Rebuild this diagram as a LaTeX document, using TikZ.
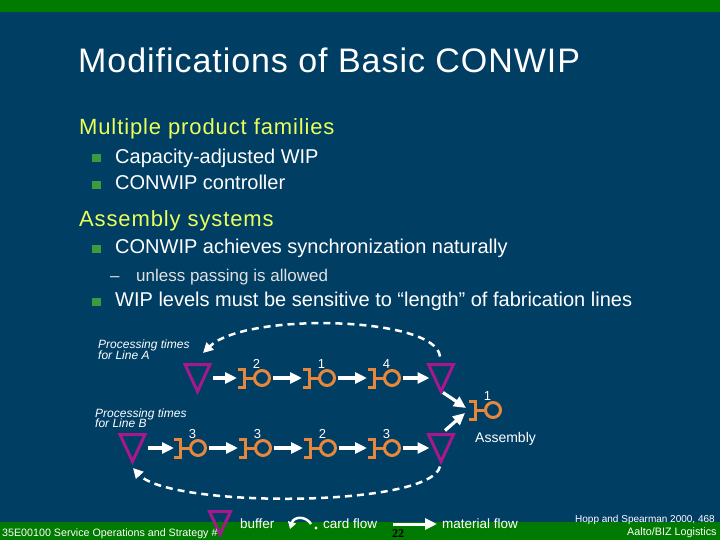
\documentclass[tikz,border=0pt]{standalone}
\usepackage{fontspec}
\setmainfont{Liberation Sans}
\newfontfamily\serifface{Liberation Serif}
\newfontfamily\spacedA[LetterSpace=2.8]{Liberation Sans}
\newfontfamily\spacedB[LetterSpace=4]{Liberation Sans}
\usetikzlibrary{arrows.meta,calc}
\definecolor{bgblue}{RGB}{0,62,100}
\definecolor{bargreen}{RGB}{0,122,0}
\definecolor{stnorange}{RGB}{230,135,60}
\definecolor{bufmag}{RGB}{165,25,140}
\definecolor{bulgreen}{RGB}{60,155,60}
\definecolor{headyellow}{RGB}{235,255,90}
\definecolor{subgray}{RGB}{225,225,225}
\newcommand{\fs}[1]{\fontsize{#1}{#1}\selectfont}
\newcommand{\mystation}[4]{%
  \node[ring] (#1) at (#2,#3) {};
  \coordinate (#1-in) at ($(#1.center)+(-25,0)$);
  \draw[stnline] (#1.west) -- ++(-10,0);
  \draw[stnline] ($(#1.center)+(-24,-9)$) -- ++(6.5,0) -- ++(0,18) -- ++(-6.5,0);
  \node[numlbl] (#1-lbl) at ($(#1.center)+(-5.5,-10)$) {#4};
}
\newcommand{\mybuffer}[5]{%
  \node[bufbox, minimum width=#4pt, minimum height=#5pt] (#1) at (#2,#3) {};
  \draw[bufline] (#1.north west) -- (#1.north east) -- (#1.south) -- cycle;
}
\begin{document}
\begin{tikzpicture}[x=1pt,y=-1pt,
  ring/.style={circle, draw=stnorange, line width=3pt, minimum size=15pt, inner sep=0pt, outer sep=0pt},
  stnline/.style={draw=stnorange, line width=3pt},
  numlbl/.style={anchor=base, inner sep=0pt, text=white, font=\fs{13}},
  bufbox/.style={inner sep=0pt, outer sep=0pt},
  bufline/.style={draw=bufmag, line width=3pt, line join=miter},
  flow/.style={draw=white, line width=3.2pt, -{Triangle[length=12pt,width=11pt]}},
  card/.style={draw=white, line width=2.5pt, dash pattern=on 7pt off 5pt, -{Triangle[length=10pt,width=10pt]}},
  txt/.style={anchor=base west, inner sep=0pt, text=white},
  bulsq/.style={fill=bulgreen, minimum size=8.5pt, inner sep=0pt, outer sep=0pt}
]
\useasboundingbox (0,0) rectangle (720,540);
\fill[bgblue] (0,0) rectangle (720,540);
\fill[bargreen] (0,0) rectangle (720,12);
\fill[bargreen] (0,522) rectangle (720,540);

% title and bullets
\node[txt, font=\spacedA\fs{34}] (title) at (78,72.3) {Modifications of Basic CONWIP};
\node[txt, text=headyellow, font=\spacedB\fs{22}] (h1) at (79,134.3) {Multiple product families};
\node[bulsq] (s1) at (96.5,158) {};
\node[txt, font=\fs{20}] (b1) at (115,163.3) {Capacity-adjusted WIP};
\node[bulsq] (s2) at (96.5,185) {};
\node[txt, font=\fs{20}] (b2) at (115,190) {CONWIP controller};
\node[txt, text=headyellow, font=\spacedB\fs{22}] (h2) at (79,226.7) {Assembly systems};
\node[bulsq] (s3) at (96.5,249) {};
\node[txt, font=\fs{20}] (b3) at (115,254) {CONWIP achieves synchronization naturally};
\node[txt, text=subgray, font=\fs{17}] (d1) at (110,281) {–};
\node[txt, text=subgray, font=\fs{17}] (b4) at (136,281) {unless passing is allowed};
\node[bulsq] (s4) at (96.5,302) {};
\node[txt, font=\fs{20}] (b5) at (115,306.7) {WIP levels must be sensitive to “length” of fabrication lines};

% processing time captions
\node[txt, font=\fs{12}\itshape] (pa1) at (98,348.3) {Processing times};
\node[txt, font=\fs{12}\itshape] (pa2) at (98,359) {for Line A};
\node[txt, font=\fs{12}\itshape] (pb1) at (95,417.3) {Processing times};
\node[txt, font=\fs{12}\itshape] (pb2) at (95,427.8) {for Line B};

% line A
\mybuffer{tA1}{197.5}{378}{25}{27}
\mystation{a1}{262}{378}{2}
\mystation{a2}{327}{378}{1}
\mystation{a3}{392}{378}{4}
\mybuffer{tA2}{441}{378}{25}{27}
% line B
\mybuffer{tB1}{132.5}{448}{25}{27}
\mystation{b1}{198}{448}{3}
\mystation{b2}{263}{448}{3}
\mystation{b3}{328}{448}{2}
\mystation{b4}{392}{448}{3}
\mybuffer{tB2}{441}{448}{25}{27}
% assembly
\mystation{asm}{493}{410}{1}
\node[txt, font=\fs{14}] (asmlbl) at (475,442.7) {Assembly};

% material flow
\draw[flow, shorten <=3pt] (tA1.east) -- (a1-in);
\draw[flow, shorten <=3pt] (a1.east) -- (a2-in);
\draw[flow, shorten <=3pt] (a2.east) -- (a3-in);
\draw[flow, shorten <=3pt, shorten >=-1pt] (a3.east) -- (tA2.west);
\draw[flow, shorten <=3pt, shorten >=-1pt] (tB1.east) -- (b1-in);
\draw[flow, shorten <=3pt] (b1.east) -- (b2-in);
\draw[flow, shorten <=3pt] (b2.east) -- (b3-in);
\draw[flow, shorten <=3pt] (b3.east) -- (b4-in);
\draw[flow, shorten <=3pt, shorten >=-1pt] (b4.east) -- (tB2.west);
\draw[flow] ($(tA2.south)+(2,1)$) -- ($(asm-in)+(-2,-2)$);
\draw[flow] ($(tB2.north)+(4,-4)$) -- ($(asm-in)+(-3,3)$);

% card flow
\coordinate (cA) at (203,353);
\coordinate (cB) at (133,468);
\draw[card] ($(tA2.north)+(-1,-8)$) .. controls (436,316) and (245,312) .. (cA);
\draw[card] ($(tB2.south)+(-1,5)$) .. controls (430,508) and (170,508) .. (cB);

% legend
\mybuffer{lgbuf}{220}{523}{21}{23}
\node[txt, font=\fs{13.5}] (lgbuftxt) at (240,528) {buffer};
\coordinate (lgc1) at (311,524);
\coordinate (lgc2) at (290,529);
\draw[draw=white, line width=2.5pt, -{Triangle[length=7pt,width=8pt]}] (lgc1) .. controls (306,516) and (294,516) .. (lgc2);
\fill[white] (316,528) circle (1.6pt);
\node[txt, font=\fs{13.5}] (lgcardtxt) at (323,528) {card flow};
\coordinate (lgm1) at (393,524);
\coordinate (lgm2) at (437,524);
\draw[flow, line width=3pt] (lgm1) -- (lgm2);
\node[txt, font=\fs{13.5}] (lgmattxt) at (442,528) {material flow};

% footer
\node[txt, font=\fs{10.7}] (foot1) at (2,536.5) {35E00100 Service Operations and Strategy \#};
\node[txt, text=black, font=\serifface\bfseries\fs{12}] (pgno) at (392,537) {22};
\node[txt, font=\fs{10}] (foot2) at (575,522.3) {Hopp and Spearman 2000, 468};
\node[txt, font=\fs{10.8}] (foot3) at (627,535) {Aalto/BIZ Logistics};
\end{tikzpicture}
\end{document}
